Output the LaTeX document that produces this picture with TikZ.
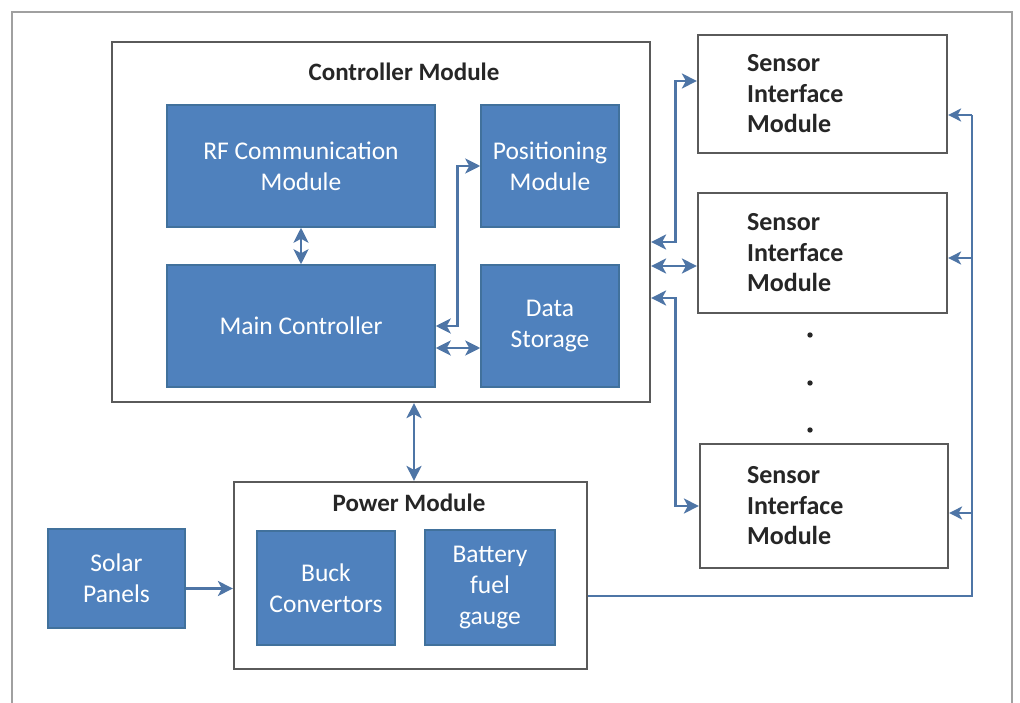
\documentclass[tikz,border=0pt]{standalone}
\usepackage{fontspec}
\setmainfont{Carlito}
\usetikzlibrary{arrows.meta,calc}
\definecolor{boxblue}{HTML}{4F81BD}
\definecolor{boxedge}{HTML}{41719C}
\definecolor{arrcol}{HTML}{4E75A6}
\definecolor{framegray}{HTML}{A0A0A0}
\definecolor{edgegray}{HTML}{5A5A5A}
\tikzset{
  bluebox/.style={draw=boxedge, line width=1.5pt, fill=boxblue, text=white, align=center, inner sep=0pt, font=\fontsize{25.5}{31}\selectfont},
  whitebox/.style={draw=edgegray, line width=2.2pt, fill=white, inner sep=0pt},
  titletext/.style={font=\bfseries\fontsize{25}{28}\selectfont, text=black!85},
  simtext/.style={font=\bfseries\fontsize{26}{30.5}\selectfont, text=black!85, align=left, anchor=west, inner sep=0pt},
  conn/.style={draw=arrcol, line width=2.8pt, {Stealth[length=15pt,width=15pt,inset=4pt]}-{Stealth[length=15pt,width=15pt,inset=4pt]}},
  oneway/.style={draw=arrcol, line width=2.8pt, -{Stealth[length=15pt,width=15pt,inset=4pt]}},
  busline/.style={draw=arrcol, line width=2.4pt},
  busarr/.style={draw=arrcol, line width=2.4pt, -{Stealth[length=13pt,width=13pt,inset=3.5pt]}},
}
\begin{document}
\begin{tikzpicture}[x=1pt,y=-1pt]
\useasboundingbox (0,0) rectangle (1020,703);
% outer frame
\draw[framegray, line width=1.8pt] (12,712) -- (12,12) -- (1012,12) -- (1012,712);

% controller module
\node[whitebox, minimum width=538, minimum height=360] (ctrl) at (381,222) {};
\node[titletext] (ctrlt) at (404,72) {Controller Module};
\node[bluebox, minimum width=268, minimum height=122] (rf) at (301,166) {RF Communication\\Module};
\node[bluebox, minimum width=268, minimum height=122] (mainc) at (301,326) {Main Controller};
\node[bluebox, minimum width=138, minimum height=122] (pos) at (550,166) {Positioning\\Module};
\node[bluebox, minimum width=138, minimum height=122] (data) at (550,326) {Data\\Storage};

% sensor interface modules
\node[whitebox, minimum width=249, minimum height=118] (sim1) at (822.5,94) {};
\node[whitebox, minimum width=249, minimum height=120] (sim2) at (822.5,253) {};
\node[whitebox, minimum width=248, minimum height=124] (sim3) at (824,506) {};
\node[simtext] (sim1t) at ([xshift=50pt]sim1.west) {Sensor\\Interface\\Module};
\node[simtext] (sim2t) at ([xshift=50pt]sim2.west) {Sensor\\Interface\\Module};
\node[simtext] (sim3t) at ([xshift=48pt]sim3.west) {Sensor\\Interface\\Module};
\fill[black!85] (810,335) circle (2.7pt) (810,383) circle (2.7pt) (810,430) circle (2.7pt);

% power module
\node[whitebox, minimum width=353, minimum height=187] (pwr) at (410.5,575.5) {};
\node[titletext] (pwrt) at (409,503) {Power Module};
\node[bluebox, minimum width=138, minimum height=114] (buck) at (326,588) {Buck\\Convertors};
\node[bluebox, minimum width=130, minimum height=115] (batt) at (490,587.5) {Battery\\fuel\\gauge};
\node[bluebox, minimum width=137, minimum height=99] (solar) at (116.5,578.5) {Solar\\Panels};

% internal connectors
\draw[conn] (rf.south) -- (mainc.north);
\draw[conn] (mainc.east) -- ++(22,0) |- (pos.west);
\draw[conn] ([yshift=-22pt]mainc.east) -- ([yshift=-22pt]mainc.east -| data.west);

% controller to sensors
\draw[conn] ([yshift=-20pt]ctrl.east) -- ++(24,0) |- ([yshift=13pt]sim1.west);
\draw[conn] ([yshift=-44pt]ctrl.east) -- ([yshift=-44pt]ctrl.east -| sim2.west);
\draw[conn] ([yshift=-76pt]ctrl.east) -- ++(24,0) |- (sim3.west);

% controller to power
\draw[conn] ([xshift=33pt]ctrl.south) -- ([xshift=33pt]ctrl.south |- pwr.north);
% solar to power
\draw[oneway] ([yshift=-10pt]solar.east) -- ([yshift=-10pt]solar.east -| pwr.west);

% power bus to sensors
\coordinate (bt) at (972,596);
\coordinate (bu) at (972,115);
\draw[busline] ([yshift=-20.5pt]pwr.east) -- (bt) -- (bu);
\draw[busarr] (bu) -- (bu -| sim1.east);
\draw[busarr] (bt |- 0,258) -- (sim2.east |- 0,258);
\draw[busarr] (bt |- 0,513) -- (sim3.east |- 0,513);
\end{tikzpicture}
\end{document}
